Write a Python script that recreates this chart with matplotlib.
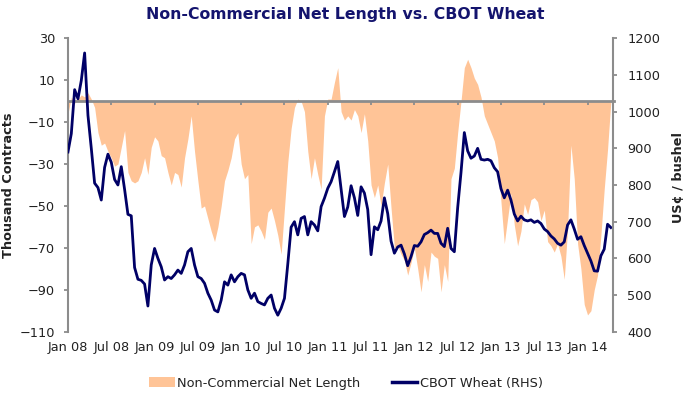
import matplotlib
matplotlib.use('Agg')
import matplotlib.pyplot as plt
import matplotlib.dates as mdates
from matplotlib.patches import Patch
from matplotlib.lines import Line2D
import pandas as pd

# ---------------- data (bi-weekly readings) ----------------
start_date = '2008-01-08'

net_length = [
    -6, 2, -1, 1, 3, 2, 4, 1, -3, -15, -21, -20, -24, -27, -31, -30, -22, -14, -34, -38,
    -39, -38, -34, -27, -35, -22, -17,
    -19, -26, -27, -34, -40, -34, -35, -41, -27, -18, -7, -24, -38, -51, -50, -56, -62, -67,
    -60, -50, -38, -33, -27, -18, -15, -30, -37, -35,
    -68, -60, -59, -62, -66, -53, -51, -57, -64, -73, -51, -29, -13, -3, 1, 0, -5, -24, -37,
    -27, -35, -42, -7, 1, 1, 9, 16,
    -5, -9, -7, -9, -4, -7, -15, -6, -19, -40, -46, -40, -50, -39, -30, -51, -70, -69, -73,
    -76, -83, -77, -70, -80, -91, -78, -86,
    -72, -74, -75, -91, -78, -86, -37, -32, -15, 0, 16, 20, 16, 11, 8, 2, -7, -11, -15, -19,
    -27, -48, -68, -56, -44, -59, -69, -62,
    -49, -54, -47, -46, -48, -57, -52, -67, -69, -72, -68, -74, -85, -61, -21, -37, -68, -80,
    -97, -102, -100, -90, -83, -64, -42, -23, 0,
]

cbot_wheat = [
    890, 940, 1060, 1035, 1085, 1160, 990, 900, 805, 793, 759, 848, 884, 862, 815, 800, 850,
    788, 720, 716, 575, 543, 540, 530, 470, 582, 627,
    600, 577, 541, 550, 545, 555, 568, 559, 582, 618, 627, 582, 550, 545, 532, 505, 486, 459,
    454, 486, 536, 527, 555, 536, 550, 559, 555, 514,
    491, 505, 482, 477, 473, 491, 500, 464, 445, 464, 491, 585, 685, 700, 664, 709, 714, 664,
    700, 691, 675, 741, 764, 791, 809, 836, 864,
    790, 714, 740, 798, 765, 717, 795, 778, 733, 610, 686, 678, 702, 765, 722, 647, 614, 631,
    636, 612, 580, 605, 635, 633, 645, 665, 670,
    677, 668, 668, 641, 632, 682, 627, 618, 738, 834, 943, 893, 873, 879, 900, 870, 868, 870,
    866, 847, 836, 790, 765, 786, 759, 721, 702, 715,
    705, 702, 705, 698, 702, 695, 680, 673, 661, 653, 641, 636, 645, 691, 705, 680, 652, 659,
    635, 614, 593, 566, 565, 607, 625, 693, 684,
]

tick_labels = ['Jan 08', 'Jul 08', 'Jan 09', 'Jul 09', 'Jan 10', 'Jul 10', 'Jan 11',
               'Jul 11', 'Jan 12', 'Jul 12', 'Jan 13', 'Jul 13', 'Jan 14']

left_ticks = list(range(-110, 31, 20))
right_ticks = list(range(400, 1201, 100))

title = 'Non-Commercial Net Length vs. CBOT Wheat'
series_names = ['Non-Commercial Net Length', 'CBOT Wheat (RHS)']

# ---------------- styling ----------------
PEACH = '#FFC497'
NAVY = '#000066'
GREY = '#8C8C8C'
TXT = '#222222'
FS = 9.3

plt.rcParams['font.family'] = ['DejaVu Sans']

dates = pd.date_range(start_date, periods=len(net_length), freq='14D')
xnum = mdates.date2num(dates)
tick_pos = mdates.date2num([dates[0] + pd.Timedelta(days=182 * k) for k in range(len(tick_labels))])
x_lo = mdates.date2num(dates[0] - pd.Timedelta(days=2))
x_hi = mdates.date2num(dates[-1] + pd.Timedelta(days=11))

fig = plt.figure(figsize=(6.85, 4.0), dpi=100)
rect = [67.5 / 685, 1 - 331.7 / 400, 546 / 685, (331.7 - 38.3) / 400]

# label-only axes for the date labels at the bottom
lab_ax = fig.add_axes(rect)
lab_ax.set_zorder(-1)
lab_ax.patch.set_visible(False)
for s in lab_ax.spines.values():
    s.set_visible(False)
lab_ax.set_xlim(x_lo, x_hi)
lab_ax.set_xticks(tick_pos, labels=tick_labels)
lab_ax.set_yticks([])
lab_ax.tick_params(axis='x', length=0, pad=7, labelsize=FS, labelcolor=TXT)

ax = fig.add_axes(rect)
ax.patch.set_visible(False)
ax.fill_between(xnum, net_length, 0, color=PEACH, linewidth=0)
ax.set_xlim(x_lo, x_hi)
ax.set_ylim(-110, 30)
ax.set_yticks(left_ticks)
ax.set_xticks(tick_pos)
ax.spines['bottom'].set_position(('data', 0))
ax.spines['bottom'].set_color(GREY)
ax.spines['bottom'].set_linewidth(2.0)
ax.spines['left'].set_color(GREY)
ax.spines['left'].set_linewidth(1.5)
ax.spines['top'].set_visible(False)
ax.spines['right'].set_visible(False)
ax.tick_params(axis='x', direction='out', length=3, width=1.3, color=GREY, labelbottom=False)
ax.tick_params(axis='y', direction='out', length=3, width=1.3, color=GREY,
               labelsize=FS, labelcolor=TXT, pad=6)
ax.set_ylabel('Thousand Contracts', fontsize=FS, fontweight='bold', color=TXT)
ax.yaxis.set_label_coords(-0.096, 0.5)

ax2 = ax.twinx()
ax2.plot(xnum, cbot_wheat, color=NAVY, linewidth=2.0, solid_joinstyle='round')
ax2.set_ylim(400, 1200)
ax2.set_yticks(right_ticks)
for side in ['top', 'bottom', 'left']:
    ax2.spines[side].set_visible(False)
ax2.spines['right'].set_color(GREY)
ax2.spines['right'].set_linewidth(1.5)
ax2.tick_params(axis='y', direction='out', length=3, width=1.3, color=GREY,
                labelsize=FS, labelcolor=TXT, pad=7)
ax2.set_ylabel('US¢ / bushel', fontsize=FS, fontweight='bold', color=TXT, rotation=90)
ax2.yaxis.set_label_coords(1.107, 0.524)

fig.text(345.5 / 685, 1 - 14 / 400, title, ha='center', va='center',
         fontsize=11.3, fontweight='bold', color='#14146E')

handles = [Patch(facecolor=PEACH, edgecolor='none'),
           Line2D([0], [0], color=NAVY, linewidth=2.5)]
fig.legend(handles, series_names, loc='center', bbox_to_anchor=(346 / 685, 1 - 383 / 400),
           ncol=2, frameon=False, fontsize=FS, handlelength=2.0, handletextpad=0.2,
           columnspacing=2.4, labelcolor=TXT)

fig.savefig('out.png', dpi=100)
